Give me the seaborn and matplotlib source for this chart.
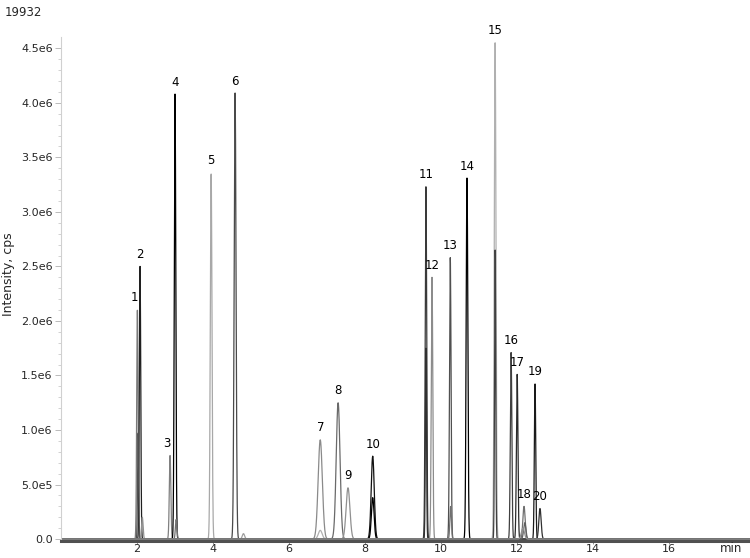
import numpy as np
import pandas as pd
import matplotlib
matplotlib.use("Agg")
import matplotlib.pyplot as plt
import seaborn as sns

# numbered peaks: retention time (min) and apex intensity (cps)
peak_ids = [str(i) for i in range(1, 21)]
peak_time = [2.01, 2.08, 2.87, 3.00, 3.95, 4.58, 6.82, 7.29, 7.55, 8.20,
             9.60, 9.76, 10.24, 10.68, 11.42, 11.84, 12.00, 12.18, 12.47, 12.60]
peak_height = [2.11e6, 2.50e6, 0.77e6, 4.08e6, 3.36e6, 4.09e6, 0.91e6, 1.25e6, 0.47e6, 0.76e6,
               3.23e6, 2.40e6, 2.58e6, 3.31e6, 4.55e6, 1.71e6, 1.51e6, 0.30e6, 1.43e6, 0.28e6]
peak_sigma = [0.018, 0.018, 0.02, 0.02, 0.022, 0.025, 0.055, 0.05, 0.05, 0.04,
              0.02, 0.02, 0.02, 0.022, 0.022, 0.02, 0.02, 0.03, 0.018, 0.03]

# secondary (qualifier) traces, unlabeled
minor_time = [2.03, 2.14, 3.03, 4.80, 6.82, 8.20, 9.60, 10.25, 11.42, 12.20, 12.15]
minor_height = [0.98e6, 0.20e6, 0.18e6, 0.05e6, 0.08e6, 0.38e6, 1.75e6, 0.30e6, 2.65e6, 0.15e6, 0.10e6]
minor_sigma = [0.015, 0.02, 0.02, 0.03, 0.05, 0.035, 0.015, 0.02, 0.015, 0.03, 0.04]

y_ticks = [0, 0.5e6, 1.0e6, 1.5e6, 2.0e6, 2.5e6, 3.0e6, 3.5e6, 4.0e6, 4.5e6]
y_labels = ["0.0", "5.0e5", "1.0e6", "1.5e6", "2.0e6", "2.5e6", "3.0e6", "3.5e6", "4.0e6", "4.5e6"]
x_ticks = [2, 4, 6, 8, 10, 12, 14, 16]

main_shades = ["#7a7a7a", "#202020", "#808080", "#000000", "#a8a8a8", "#4a4a4a", "#8a8a8a",
               "#6a6a6a", "#909090", "#101010", "#3a3a3a", "#8c8c8c", "#505050", "#000000",
               "#b0b0b0", "#404040", "#2a2a2a", "#707070", "#1a1a1a", "#303030"]
minor_shades = ["#505050", "#909090", "#707070", "#a0a0a0", "#b0b0b0", "#000000",
                "#303030", "#707070", "#404040", "#606060", "#909090"]

t = np.arange(0, 18.15, 0.004)
rows = []
all_t = peak_time + minor_time
all_h = peak_height + minor_height
all_s = peak_sigma + minor_sigma
for k, (pt, ph, ps) in enumerate(zip(all_t, all_h, all_s)):
    y = ph * np.exp(-0.5 * ((t - pt) / ps) ** 2)
    rows.append(pd.DataFrame({"time": t, "intensity": y, "trace": f"tr{k:02d}"}))
df = pd.concat(rows, ignore_index=True)
palette = dict(zip([f"tr{k:02d}" for k in range(len(all_t))], main_shades + minor_shades))

sns.set_style("white")
plt.rcParams['font.family'] = ['DejaVu Sans']

fig = plt.figure(figsize=(7.5, 5.58), dpi=100)
ax = fig.add_axes([0.0813, 0.030, 0.919, 0.903])

sns.lineplot(data=df, x="time", y="intensity", hue="trace", palette=palette,
             estimator=None, sort=False, legend=False, linewidth=0.9, ax=ax)

ax.set_xlim(0, 18.13)
ax.set_ylim(-0.02e6, 4.6e6)

for lab, pt, ph in zip(peak_ids, peak_time, peak_height):
    ha = "center"
    dx = 0
    if lab in ("1", "3"):
        ha = "right"
        dx = 0.02
    ax.text(pt + dx, ph + 0.05e6, lab, ha=ha, va="bottom", fontsize=8.5, color="black")

ax.set_yticks(y_ticks)
ax.set_yticklabels(y_labels)
ax.set_yticks(np.arange(0, 4.6e6, 0.1e6), minor=True)
ax.set_xticks(x_ticks)
ax.set_xticklabels([str(v) for v in x_ticks])
ax.tick_params(axis="y", which="major", direction="out", length=4, width=0.6,
               color="#b0b0b0", labelsize=8, pad=2, left=True)
ax.tick_params(axis="y", which="minor", direction="out", length=2, width=0.5,
               color="#c0c0c0", left=True)
ax.tick_params(axis="x", direction="out", length=2, width=0.6, color="#808080",
               labelsize=8, pad=0, bottom=True)

ax.set_xlabel("")
ax.set_ylabel("Intensity, cps", fontsize=9)
ax.yaxis.set_label_coords(-0.066, 0.53)

for s in ["top", "right"]:
    ax.spines[s].set_visible(False)
ax.spines["left"].set_color("#d0d0d0")
ax.spines["left"].set_linewidth(0.8)
ax.spines["bottom"].set_color("#505050")
ax.spines["bottom"].set_linewidth(2.2)

fig.text(5 / 750, 1 - 12 / 558, "19932", fontsize=8.5, va="center", ha="left")
fig.text(742 / 750, 1 - 548 / 558, "min", fontsize=8.5, va="center", ha="right")

fig.savefig("out.png", dpi=100)
